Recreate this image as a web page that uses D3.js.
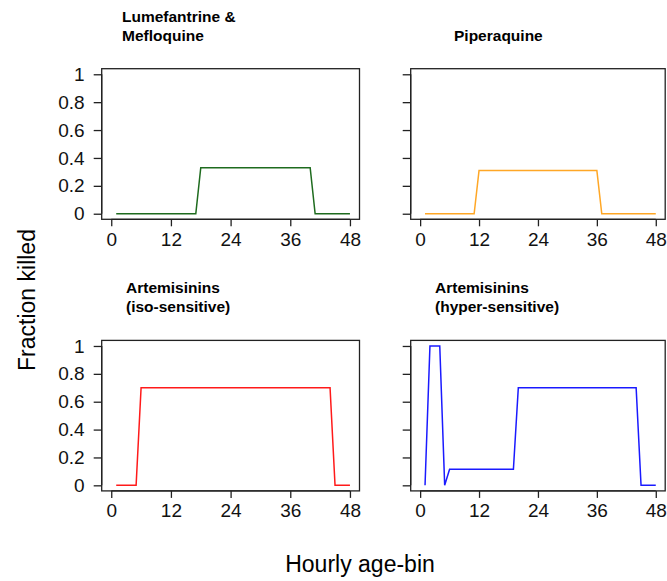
<!DOCTYPE html>
<html>
<head>
<meta charset="utf-8">
<script src="https://cdn.jsdelivr.net/npm/d3@7"></script>
<style>
  html, body { margin: 0; padding: 0; background: #fff; }
  svg { display: block; font-family: "Liberation Sans", Arial, sans-serif; }
</style>
</head>
<body>
<svg id="chart" width="667" height="581"></svg>
<script>
// ---- Data ----
const hours = [1,2,3,4,5,6,7,8,9,10,11,12,13,14,15,16,17,18,19,20,21,22,23,24,
               25,26,27,28,29,30,31,32,33,34,35,36,37,38,39,40,41,42,43,44,45,46,47,48];

const lumefantrineMefloquine = [
  0,0,0,0,0,0,0,0,0,0,0,0,0,0,0,0,0,
  0.33,0.33,0.33,0.33,0.33,0.33,0.33,0.33,0.33,0.33,0.33,0.33,0.33,0.33,0.33,0.33,0.33,0.33,0.33,0.33,0.33,0.33,0.33,
  0,0,0,0,0,0,0,0
];
const piperaquine = [
  0,0,0,0,0,0,0,0,0,0,0,
  0.31,0.31,0.31,0.31,0.31,0.31,0.31,0.31,0.31,0.31,0.31,0.31,0.31,0.31,0.31,0.31,0.31,0.31,0.31,0.31,0.31,0.31,0.31,0.31,0.31,
  0,0,0,0,0,0,0,0,0,0,0,0
];
const artemisininsIso = [
  0,0,0,0,0,
  0.7,0.7,0.7,0.7,0.7,0.7,0.7,0.7,0.7,0.7,0.7,0.7,0.7,0.7,0.7,0.7,0.7,0.7,0.7,0.7,
  0.7,0.7,0.7,0.7,0.7,0.7,0.7,0.7,0.7,0.7,0.7,0.7,0.7,0.7,0.7,0.7,0.7,0.7,0.7,
  0,0,0,0
];
const artemisininsHyper = [
  0,1,1,1,0,
  0.115,0.115,0.115,0.115,0.115,0.115,0.115,0.115,0.115,0.115,0.115,0.115,0.115,0.115,
  0.7,0.7,0.7,0.7,0.7,0.7,0.7,0.7,0.7,0.7,0.7,0.7,0.7,0.7,0.7,0.7,0.7,0.7,0.7,0.7,0.7,0.7,0.7,0.7,0.7,
  0,0,0,0
];

const xTicks = [0, 12, 24, 36, 48];
const yTicks = [0, 0.2, 0.4, 0.6, 0.8, 1];
const yTickLabels = ["0", "0.2", "0.4", "0.6", "0.8", "1"];

const panelTitles = [
  ["Lumefantrine &", "Mefloquine"],
  ["", "Piperaquine"],
  ["Artemisinins", "(iso-sensitive)"],
  ["Artemisinins", "(hyper-sensitive)"]
];
const seriesList = [lumefantrineMefloquine, piperaquine, artemisininsIso, artemisininsHyper];
const colors = ["#1E6B1E", "#FFA726", "#FF1A1A", "#1A1AFF"];

// ---- Layout ----
const panels = [
  { left: 101.7, right: 359.5, top: 68.7, bottom: 219.3, ylabels: true,  titleX: 122 },
  { left: 410.7, right: 665.2, top: 68.7, bottom: 219.3, ylabels: false, titleX: 454 },
  { left: 101.7, right: 359.5, top: 340.4, bottom: 490.9, ylabels: true, titleX: 126 },
  { left: 410.7, right: 665.2, top: 340.4, bottom: 490.9, ylabels: false, titleX: 435 }
];

const svg = d3.select("#chart");
const xPad = 48 * 0.04, yPad = 0.04;

panels.forEach((p, i) => {
  const x = d3.scaleLinear().domain([0 - xPad, 48 + xPad]).range([p.left, p.right]);
  const y = d3.scaleLinear().domain([0 - yPad, 1 + yPad]).range([p.bottom, p.top]);
  const g = svg.append("g");

  // x axis
  const xAxis = d3.axisBottom(x).tickValues(xTicks).tickSize(7).tickPadding(6).tickFormat(d3.format("d"));
  const gx = g.append("g").attr("transform", `translate(0,${p.bottom})`).call(xAxis);
  gx.select(".domain").attr("d", `M${x(0)},0H${x(48)}`).attr("stroke", "#222").attr("stroke-width", 1.3);
  gx.selectAll(".tick line").attr("stroke", "#222").attr("stroke-width", 1.3);
  gx.selectAll(".tick text").attr("font-size", 19).attr("fill", "#111")
    .attr("font-family", "Liberation Sans, Arial, sans-serif");

  // y axis
  const yAxis = d3.axisLeft(y).tickValues(yTicks).tickSize(8).tickPadding(9)
    .tickFormat((d, k) => p.ylabels ? yTickLabels[k] : "");
  const gy = g.append("g").attr("transform", `translate(${p.left},0)`).call(yAxis);
  gy.select(".domain").attr("d", `M0,${y(0)}V${y(1)}`).attr("stroke", "#222").attr("stroke-width", 1.3);
  gy.selectAll(".tick line").attr("stroke", "#222").attr("stroke-width", 1.3);
  gy.selectAll(".tick text").attr("font-size", 19).attr("fill", "#111")
    .attr("font-family", "Liberation Sans, Arial, sans-serif");

  // box
  g.append("rect")
    .attr("x", p.left).attr("y", p.top)
    .attr("width", p.right - p.left).attr("height", p.bottom - p.top)
    .attr("fill", "none").attr("stroke", "#222").attr("stroke-width", 1.3);

  // line
  const line = d3.line().x((d, k) => x(hours[k])).y(d => y(d));
  g.append("path").datum(seriesList[i])
    .attr("d", line).attr("fill", "none")
    .attr("stroke", colors[i]).attr("stroke-width", 1.5);

  // title
  const t = g.append("text").attr("font-size", 15.5).attr("font-weight", "bold").attr("fill", "#000");
  const base = p.top - 47;
  panelTitles[i].forEach((ln, k) => {
    t.append("tspan").attr("x", p.titleX).attr("y", base + k * 19).text(ln);
  });
});

// axis titles
svg.append("text")
  .attr("transform", "translate(35,300) rotate(-90)")
  .attr("text-anchor", "middle").attr("font-size", 23).attr("fill", "#000")
  .text("Fraction killed");
svg.append("text")
  .attr("x", 360).attr("y", 572)
  .attr("text-anchor", "middle").attr("font-size", 23).attr("fill", "#000")
  .text("Hourly age-bin");
</script>
</body>
</html>
